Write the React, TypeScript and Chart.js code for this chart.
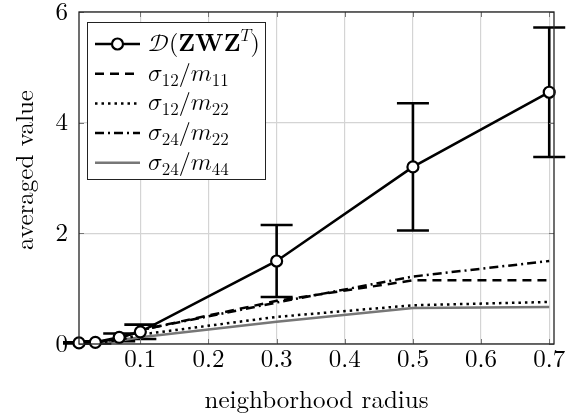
import React, { useEffect, useRef } from "react";
import { Chart, registerables } from "chart.js";

Chart.register(...registerables);

// ---- data ----
const RADIUS = [0.01, 0.034, 0.069, 0.1, 0.3, 0.5, 0.7];
const D_MEAN = [0.02, 0.03, 0.12, 0.22, 1.5, 3.2, 4.55];
const D_ERR = [0.01, 0.02, 0.07, 0.13, 0.65, 1.15, 1.17];
const S12_M11 = [0.01, 0.03, 0.1, 0.25, 0.78, 1.15, 1.15];
const S12_M22 = [0.005, 0.02, 0.07, 0.17, 0.49, 0.7, 0.76];
const S24_M22 = [0.01, 0.03, 0.1, 0.25, 0.75, 1.22, 1.5];
const S24_M44 = [0.005, 0.02, 0.06, 0.12, 0.4, 0.65, 0.67];

const X_TICKS = [0.1, 0.2, 0.3, 0.4, 0.5, 0.6, 0.7];
const Y_TICKS = [0, 2, 4, 6];
const X_TITLE = "neighborhood radius";
const Y_TITLE = "averaged value";

type Seg = { t: string; f?: "m" | "b" | "r"; p?: "sub" | "sup" };
const LEGEND_LABELS: Seg[][] = [
  [{ t: "𝒟", f: "m" }, { t: "(" }, { t: "ZWZ", f: "b" }, { t: "𝑇", f: "m", p: "sup" }, { t: ")" }],
  [{ t: "𝜎", f: "m" }, { t: "12", p: "sub" }, { t: "/" }, { t: "𝑚", f: "m" }, { t: "11", p: "sub" }],
  [{ t: "𝜎", f: "m" }, { t: "12", p: "sub" }, { t: "/" }, { t: "𝑚", f: "m" }, { t: "22", p: "sub" }],
  [{ t: "𝜎", f: "m" }, { t: "24", p: "sub" }, { t: "/" }, { t: "𝑚", f: "m" }, { t: "22", p: "sub" }],
  [{ t: "𝜎", f: "m" }, { t: "24", p: "sub" }, { t: "/" }, { t: "𝑚", f: "m" }, { t: "44", p: "sub" }],
];

const FONT = "'Latin Modern Roman'";
const MATH_FONT = "'Latin Modern Math'";

const pts = (ys: number[]) => RADIUS.map((x, i) => ({ x, y: ys[i] }));

function drawSegs(ctx: CanvasRenderingContext2D, segs: Seg[], x: number, y: number) {
  ctx.textBaseline = "alphabetic";
  ctx.textAlign = "left";
  ctx.fillStyle = "#000";
  for (const s of segs) {
    const size = s.p ? 17 : 24;
    const fam = s.f === "m" ? MATH_FONT : FONT;
    const style = s.f === "b" ? "bold " : "";
    ctx.font = `${style}${size}px ${fam}`;
    const dy = s.p === "sub" ? 5 : s.p === "sup" ? -10 : 0;
    ctx.fillText(s.t, x, y + dy);
    x += ctx.measureText(s.t).width;
  }
}

const decor = {
  id: "decor",
  beforeDatasetsDraw(chart: any) {
    const { ctx, scales } = chart;
    const xs = scales.x, ys = scales.y;
    ctx.save();
    ctx.strokeStyle = "#000";
    ctx.lineWidth = 2.6;
    RADIUS.forEach((r, i) => {
      const px = xs.getPixelForValue(r);
      const t = ys.getPixelForValue(D_MEAN[i] + D_ERR[i]);
      const b = ys.getPixelForValue(D_MEAN[i] - D_ERR[i]);
      ctx.beginPath();
      ctx.moveTo(px, t); ctx.lineTo(px, b);
      ctx.moveTo(px - 16, t); ctx.lineTo(px + 16, t);
      ctx.moveTo(px - 16, b); ctx.lineTo(px + 16, b);
      ctx.stroke();
    });
    ctx.restore();
  },
  afterDraw(chart: any) {
    const { ctx, chartArea: a, scales } = chart;
    const xs = scales.x, ys = scales.y;
    ctx.save();
    // inner tick marks
    ctx.strokeStyle = "#777";
    ctx.lineWidth = 1;
    ctx.beginPath();
    X_TICKS.forEach((v) => {
      const p = Math.round(xs.getPixelForValue(v)) + 0.5;
      ctx.moveTo(p, a.bottom); ctx.lineTo(p, a.bottom - 5);
      ctx.moveTo(p, a.top); ctx.lineTo(p, a.top + 5);
    });
    Y_TICKS.forEach((v) => {
      const p = Math.round(ys.getPixelForValue(v)) + 0.5;
      ctx.moveTo(a.left, p); ctx.lineTo(a.left + 5, p);
      ctx.moveTo(a.right, p); ctx.lineTo(a.right - 5, p);
    });
    ctx.stroke();
    // box
    ctx.strokeStyle = "#222";
    ctx.lineWidth = 1.3;
    ctx.strokeRect(a.left, a.top, a.right - a.left, a.bottom - a.top);

    // y-axis title
    ctx.save();
    ctx.translate(25, (a.top + a.bottom) / 2 - 8);
    ctx.rotate(-Math.PI / 2);
    ctx.font = `25px ${FONT}`;
    ctx.fillStyle = "#000";
    ctx.textAlign = "center";
    ctx.textBaseline = "middle";
    ctx.fillText(Y_TITLE, 0, 0);
    ctx.restore();

    // legend
    const lx = a.left + 8, ly = a.top + 10, lw = 178, lh = 157;
    ctx.fillStyle = "#fff";
    ctx.fillRect(lx, ly, lw, lh);
    ctx.strokeStyle = "#222";
    ctx.lineWidth = 1;
    ctx.strokeRect(lx + 0.5, ly + 0.5, lw, lh);
    const dsets = chart.data.datasets;
    LEGEND_LABELS.forEach((segs, i) => {
      const cy = ly + 22 + i * 29.7;
      const ds = dsets[i];
      ctx.save();
      ctx.strokeStyle = ds.borderColor;
      ctx.lineWidth = ds.borderWidth;
      ctx.setLineDash(ds.borderDash || []);
      ctx.beginPath();
      ctx.moveTo(lx + 8, cy); ctx.lineTo(lx + 53, cy);
      ctx.stroke();
      ctx.setLineDash([]);
      if (i === 0) {
        ctx.beginPath();
        ctx.arc(lx + 30.5, cy, 5.5, 0, Math.PI * 2);
        ctx.fillStyle = "#fff";
        ctx.fill();
        ctx.lineWidth = 2.2;
        ctx.strokeStyle = "#000";
        ctx.stroke();
      }
      ctx.restore();
      drawSegs(ctx, segs, lx + 61, cy + 7);
    });
    ctx.restore();
  },
};

export default function App() {
  const ref = useRef<HTMLCanvasElement | null>(null);
  useEffect(() => {
    if (!ref.current) return;
    Chart.defaults.font.family = FONT;
    Chart.defaults.color = "#000";
    const chart = new Chart(ref.current, {
      type: "line",
      data: {
        datasets: [
          {
            label: "D(ZWZ^T)",
            data: pts(D_MEAN),
            borderColor: "#000",
            borderWidth: 2.6,
            pointRadius: 5.5,
            pointBorderWidth: 2.2,
            pointBackgroundColor: "#fff",
            pointBorderColor: "#000",
            clip: false as any,
          },
          {
            label: "σ12/m11",
            data: pts(S12_M11),
            borderColor: "#000",
            borderWidth: 2.5,
            borderDash: [9, 6],
            pointRadius: 0,
          },
          {
            label: "σ12/m22",
            data: pts(S12_M22),
            borderColor: "#000",
            borderWidth: 2.5,
            borderDash: [2.5, 4],
            pointRadius: 0,
          },
          {
            label: "σ24/m22",
            data: pts(S24_M22),
            borderColor: "#000",
            borderWidth: 2.5,
            borderDash: [9, 4, 2, 4],
            pointRadius: 0,
          },
          {
            label: "σ24/m44",
            data: pts(S24_M44),
            borderColor: "#777",
            borderWidth: 2.5,
            pointRadius: 0,
          },
        ],
      },
      options: {
        animation: false,
        responsive: false,
        events: [],
        layout: { padding: { top: 12, right: 25, left: 0, bottom: 0 } },
        plugins: { legend: { display: false }, tooltip: { enabled: false } },
        scales: {
          x: {
            type: "linear",
            min: 0.01,
            max: 0.707,
            afterBuildTicks: (s: any) => { s.ticks = X_TICKS.map((v) => ({ value: v })); },
            afterFit: (s: any) => { s.height = 72; s.paddingLeft = 0; s.paddingRight = 0; },
            grid: { color: "#d4d4d4", lineWidth: 1.2, drawTicks: false },
            border: { display: false },
            ticks: {
              padding: 0,
              font: { size: 25, family: FONT },
              color: "#000",
              callback: (v: any) => Number(v).toFixed(1),
            },
            title: {
              display: true,
              text: X_TITLE,
              font: { size: 25, family: FONT, lineHeight: 1 },
              color: "#000",
              padding: { top: 0, bottom: 3 },
            },
          },
          y: {
            type: "linear",
            min: 0,
            max: 6,
            afterBuildTicks: (s: any) => { s.ticks = Y_TICKS.map((v) => ({ value: v })); },
            afterFit: (s: any) => { s.width = 79; s.paddingTop = 0; s.paddingBottom = 0; },
            grid: { color: "#d4d4d4", lineWidth: 1.2, drawTicks: false },
            border: { display: false },
            ticks: {
              padding: 11,
              font: { size: 25, family: FONT },
              color: "#000",
              callback: (v: any) => String(v),
            },
            title: { display: false },
          },
        },
      } as any,
      plugins: [decor],
    });
    return () => chart.destroy();
  }, []);
  return (
    <div style={{ position: "fixed", left: 0, top: 0, width: 579, height: 416, background: "#fff" }}>
      <canvas ref={ref} width={579} height={416} />
    </div>
  );
}
